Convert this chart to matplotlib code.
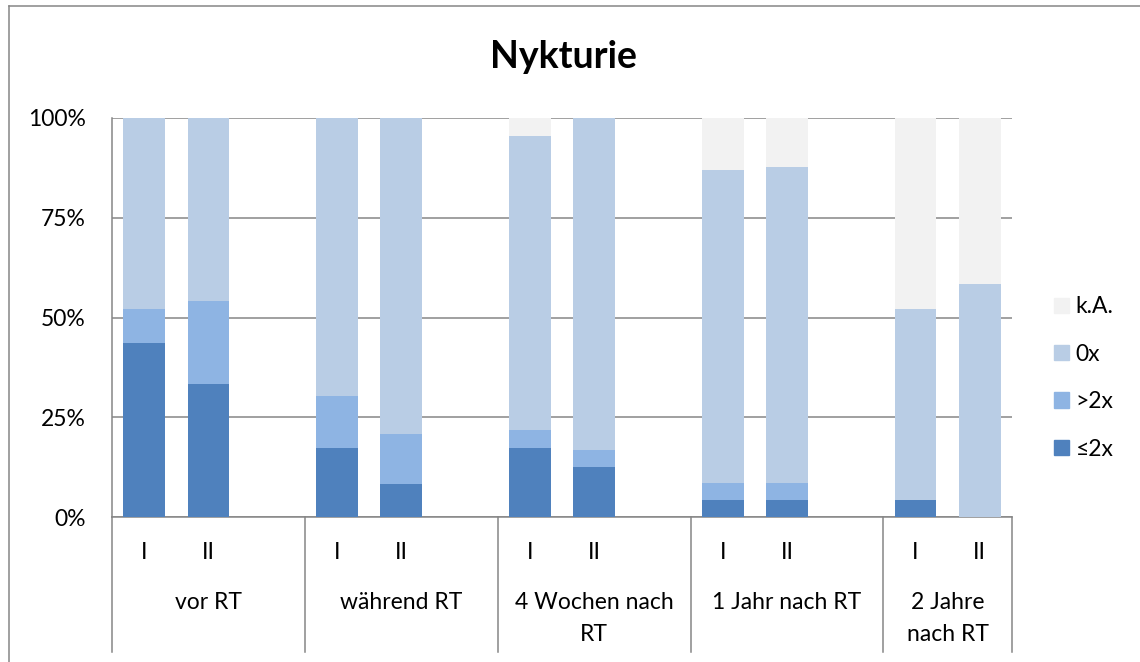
import numpy as np
import matplotlib
matplotlib.use("Agg")
from matplotlib import pyplot as plt
from matplotlib.patches import Patch
from matplotlib.ticker import PercentFormatter

plt.rcParams['font.family'] = ['Lato', 'DejaVu Sans']

groups = ["vor RT", "während RT", "4 Wochen nach\nRT", "1 Jahr nach RT", "2 Jahre\nnach RT"]
arms = ["I", "II"]

# Anteile in % (je Gruppe: I, II)
le2 = [43.5, 33.3, 17.4, 8.3, 17.4, 12.5, 4.3, 4.2, 4.3, 0.0]
gt2 = [8.7, 20.8, 13.0, 12.5, 4.3, 4.2, 4.3, 4.2, 0.0, 0.0]
zero = [47.8, 45.8, 69.6, 79.2, 73.9, 83.3, 78.3, 79.2, 47.8, 58.3]
ka = [0.0, 0.0, 0.0, 0.0, 4.3, 0.0, 13.0, 12.5, 47.8, 41.7]

series = [("≤2x", le2, "#4F81BD"), (">2x", gt2, "#8EB4E3"),
          ("0x", zero, "#B9CDE5"), ("k.A.", ka, "#F2F2F2")]

FS = 16.5

# Positionen: je Gruppe I, II und eine Leerstelle (letzte Gruppe ohne)
xpos = []
for g in range(len(groups)):
    xpos += [3 * g, 3 * g + 1]
xpos = np.array(xpos)
nslots = 3 * (len(groups) - 1) + 2

fig = plt.figure(figsize=(11.4, 6.62), dpi=100)
ax = fig.add_axes([112 / 1140, 1 - 517 / 662, 900 / 1140, 399 / 662])

bottom = np.zeros(len(xpos))
for name, vals, col in series:
    v = np.array(vals) / 100
    ax.bar(xpos, v, 0.65, bottom=bottom, color=col, label=name, zorder=3)
    bottom += v

ax.set_xlim(-0.5, nslots - 0.5)
ax.set_ylim(0, 1)
ax.set_yticks([0, 0.25, 0.5, 0.75, 1.0])
ax.yaxis.set_major_formatter(PercentFormatter(1.0, decimals=0))
ax.tick_params(axis='y', length=0, pad=19, labelsize=FS)
ax.set_xticks([])
ax.grid(axis='y', color="#868686", linewidth=1.1)
ax.set_axisbelow(True)
for s in ("top", "right"):
    ax.spines[s].set_visible(False)
for s in ("left", "bottom"):
    ax.spines[s].set_color("#868686")
    ax.spines[s].set_linewidth(1.1)

# mehrstufige Kategorienachse
trans = ax.get_xaxis_transform()
bounds = [-0.5] + [3 * g + 2.5 for g in range(len(groups) - 1)] + [nslots - 0.5]
for b in bounds:
    ax.plot([b, b], [0, -0.338], transform=trans, color="#868686",
            linewidth=1.1, clip_on=False)
for i, x in enumerate(xpos):
    ax.text(x, -0.088, arms[i % 2], transform=trans, ha='center', va='center',
            fontsize=FS)
for g, name in enumerate(groups):
    cx = (bounds[g] + bounds[g + 1]) / 2
    for k, line in enumerate(name.split("\n")):
        ax.text(cx, -0.2155 - 0.0802 * k, line, transform=trans,
                ha='center', va='center', fontsize=FS)

handles = [Patch(color=c, label=n) for n, _, c in series][::-1]
fig.legend(handles=handles, loc='center left',
           bbox_to_anchor=(1054 / 1140, 1 - 378 / 662), frameon=False,
           fontsize=FS, handlelength=0.65, handleheight=0.65,
           handletextpad=0.3, labelspacing=1.15, borderaxespad=0, borderpad=0)

fig.text(563 / 1140, 1 - 57 / 662, "Nykturie", ha='center', va='center',
         fontsize=27, fontweight='bold')

# Diagrammrahmen
fig.add_artist(plt.Line2D([9 / 1140, 9 / 1140], [0, 1 - 6 / 662],
                          transform=fig.transFigure, color="#868686", linewidth=1.1))
fig.add_artist(plt.Line2D([9 / 1140, 1], [1 - 6 / 662, 1 - 6 / 662],
                          transform=fig.transFigure, color="#868686", linewidth=1.1))

fig.savefig("out.png", dpi=100)
